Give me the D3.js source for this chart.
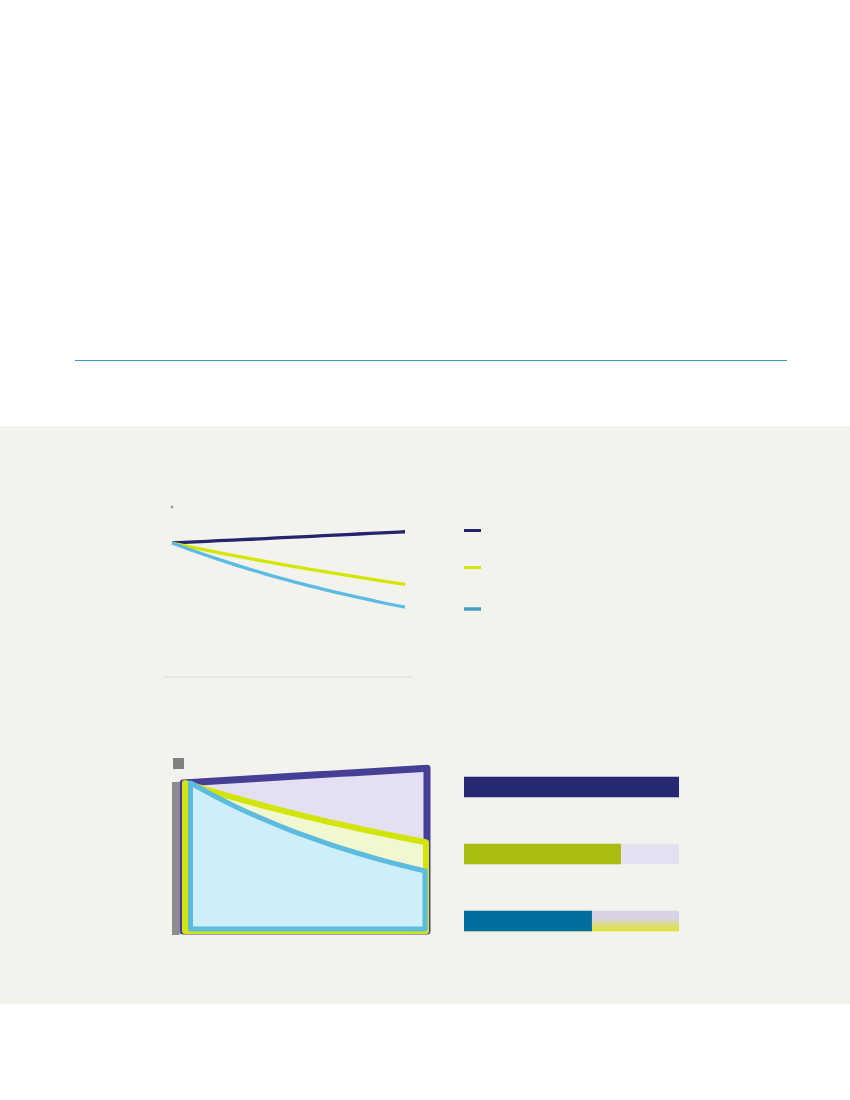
<!DOCTYPE html>
<html>
<head>
<meta charset="utf-8">
<script src="https://cdn.jsdelivr.net/npm/d3@7"></script>
<style>
  body { margin: 0; background: #ffffff; }
  svg { display: block; }
</style>
</head>
<body>
<div id="chart"></div>
<script>
// years on both line/area charts
var years = [0, 1, 2, 3, 4, 5, 6, 7, 8, 9, 10];

// top line chart (index, start = 100)
var lineNavy   = [100, 100.8, 101.7, 102.5, 103.3, 104.2, 105.0, 105.9, 106.7, 107.6, 108.4];
var lineYellow = [100, 96.4, 92.9, 89.5, 86.3, 83.2, 80.2, 77.3, 74.5, 71.8, 69.2];
var lineBlue   = [100, 93.7, 87.8, 82.2, 77.0, 72.2, 67.6, 63.4, 59.4, 55.6, 52.2];

// bottom area chart (index, start = 100)
var areaNavy   = [100, 101.0, 102.0, 103.0, 104.0, 105.0, 106.0, 107.0, 108.0, 109.0, 110.0];
var areaYellow = [100, 95.0, 90.3, 85.8, 81.5, 77.5, 73.6, 70.0, 66.5, 63.2, 60.0];
var areaBlue   = [100, 91.4, 83.5, 76.3, 69.7, 63.7, 58.2, 53.2, 48.6, 44.4, 40.6];

// bars (share of the first)
var barNames  = ['navy', 'yellow', 'blue'];
var barValues = [100, 73, 59.5];

var W = 850, H = 1100;

var svg = d3.select('#chart')
    .append('svg')
    .attr('width', W)
    .attr('height', H);

var defs = svg.append('defs');
var grad = defs.append('linearGradient')
    .attr('id', 'trackGrad')
    .attr('x1', 0).attr('y1', 0).attr('x2', 0).attr('y2', 1);
grad.append('stop').attr('offset', '0%').attr('stop-color', '#d8d2ea');
grad.append('stop').attr('offset', '35%').attr('stop-color', '#d8d3e6');
grad.append('stop').attr('offset', '100%').attr('stop-color', '#dde62a');

// page background bands
svg.append('rect').attr('x', 0).attr('y', 0).attr('width', W).attr('height', H).attr('fill', '#ffffff');
svg.append('rect').attr('x', 0).attr('y', 426).attr('width', W).attr('height', 578).attr('fill', '#f3f3ee');

// divider line
svg.append('line')
    .attr('x1', 75).attr('x2', 787)
    .attr('y1', 360.5).attr('y2', 360.5)
    .attr('stroke', '#3a96c4')
    .attr('stroke-width', 1.2);

// ---------- top line chart ----------
var xTop = d3.scaleLinear().domain([0, 10]).range([172, 405]);
var yTop = d3.scaleLinear().domain([0, 100]).range([677, 543]);

var lineChart = svg.append('g').attr('class', 'lines');

lineChart.append('line')
    .attr('x1', 163).attr('x2', 413)
    .attr('y1', yTop(0)).attr('y2', yTop(0))
    .attr('stroke', '#dcdcd8')
    .attr('stroke-width', 1);

lineChart.append('circle')
    .attr('cx', xTop(0)).attr('cy', 507)
    .attr('r', 1.5)
    .attr('fill', '#a0a0a0');

var line = d3.line()
    .x(function (d, i) { return xTop(years[i]); })
    .y(function (d) { return yTop(d); })
    .curve(d3.curveMonotoneX);

var lineSeries = [
    { values: lineNavy, color: '#23246e' },
    { values: lineYellow, color: '#d4e600' },
    { values: lineBlue, color: '#5cbbe2' }
];

lineSeries.forEach(function (s) {
    lineChart.append('path')
        .attr('d', line(s.values))
        .attr('fill', 'none')
        .attr('stroke', s.color)
        .attr('stroke-width', 3.3);
});

// legend marks
var legendColors = ['#23246e', '#d4e600', '#4a9cc4'];
var legendY = [530.5, 567.5, 609];
var legend = svg.append('g').attr('class', 'legend');
legendColors.forEach(function (c, i) {
    legend.append('line')
        .attr('x1', 464).attr('x2', 481)
        .attr('y1', legendY[i]).attr('y2', legendY[i])
        .attr('stroke', c)
        .attr('stroke-width', i == 2 ? 3.5 : 3);
});

// ---------- bottom area chart ----------
var xArea = d3.scaleLinear().domain([0, 10]).range([186, 426]);
var yArea = d3.scaleLinear().domain([0, 100]).range([931, 783]);

var areaChart = svg.append('g').attr('class', 'areas');

areaChart.append('rect')
    .attr('x', 172).attr('y', 782)
    .attr('width', 7.5).attr('height', 153)
    .attr('fill', '#8c8c8c');

areaChart.append('rect')
    .attr('x', 173).attr('y', 758)
    .attr('width', 11).attr('height', 11)
    .attr('fill', '#808080');

var areaSeries = [
    { values: areaNavy,   stroke: '#463f96', fill: '#e4dff2', width: 7, left: -3, right: 1, base: 0 },
    { values: areaYellow, stroke: '#d2e40a', fill: '#f1f7cf', width: 6, left: -1, right: 0, base: 0 },
    { values: areaBlue,   stroke: '#5ebbe0', fill: '#cceffa', width: 5, left: 4.5, right: -1, base: 2 }
];

areaSeries.forEach(function (s) {
    var n = s.values.length;
    var xs = function (i) {
        var t = i / (n - 1);
        return xArea(years[i]) + s.left * (1 - t) + s.right * t;
    };
    var pts = [[xs(0), yArea(0) - s.base]];
    s.values.forEach(function (v, i) { pts.push([xs(i), yArea(v)]); });
    pts.push([xs(n - 1), yArea(0) - s.base]);

    var topLine = d3.line().curve(d3.curveMonotoneX)(pts.slice(1, n + 1));
    var d = 'M' + pts[0][0] + ',' + pts[0][1] + 'L' + topLine.slice(1) +
        'L' + pts[n + 1][0] + ',' + pts[n + 1][1] + 'Z';

    areaChart.append('path')
        .attr('d', d)
        .attr('fill', s.fill)
        .attr('stroke', s.stroke)
        .attr('stroke-width', s.width)
        .attr('stroke-linejoin', 'round');
});

// ---------- bars ----------
var xBar = d3.scaleLinear().domain([0, 100]).range([464, 679]);
var yBar = d3.scalePoint().domain(barNames).range([787, 921]);
var barH = 20.5;
var barColors = ['#252872', '#abbc10', '#006e9f'];
var trackFills = ['#e4e0f2', '#e4e0f2', 'url(#trackGrad)'];

var bars = svg.append('g').attr('class', 'bars');

bars.selectAll('.track')
    .data(barNames)
    .enter()
    .append('rect')
    .attr('class', 'track')
    .attr('x', xBar(0))
    .attr('y', function (d) { return yBar(d) - barH / 2; })
    .attr('width', xBar(100) - xBar(0))
    .attr('height', barH)
    .attr('fill', function (d, i) { return trackFills[i]; });

bars.selectAll('.bar')
    .data(barValues)
    .enter()
    .append('rect')
    .attr('class', 'bar')
    .attr('x', xBar(0))
    .attr('y', function (d, i) { return yBar(barNames[i]) - barH / 2; })
    .attr('width', function (d) { return xBar(d) - xBar(0); })
    .attr('height', barH)
    .attr('fill', function (d, i) { return barColors[i]; });
</script>
</body>
</html>
